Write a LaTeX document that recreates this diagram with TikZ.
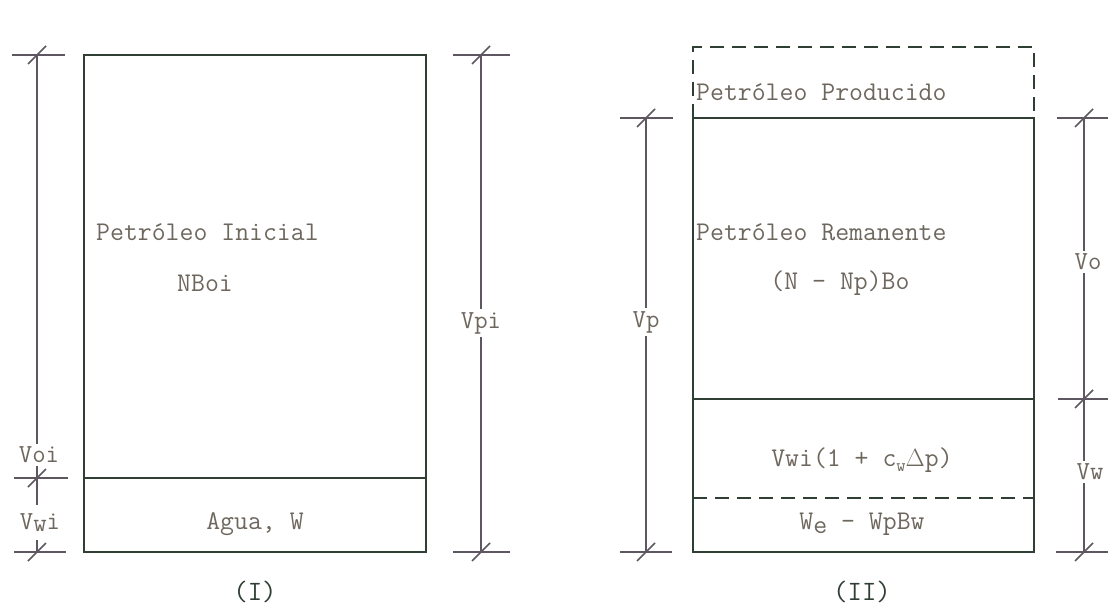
\documentclass[tikz,border=0pt]{standalone}
\usepackage{fontspec}
\definecolor{boxc}{HTML}{2F3F33}
\definecolor{dimc}{HTML}{5E5660}
\definecolor{txtc}{HTML}{6E675E}
\tikzset{
  boxline/.style={draw=boxc, line width=1.8pt},
  boxdash/.style={draw=boxc, line width=1.8pt, dash pattern=on 14pt off 8pt},
  dimline/.style={draw=dimc, line width=1.3pt},
  dimtick/.style={draw=dimc, line width=1.5pt},
  lbl/.style={text=txtc, font=\ttfamily\fontsize{27}{30}\selectfont, inner sep=0pt},
  dimlbl/.style={text=txtc, font=\ttfamily\fontsize{26}{28}\selectfont, fill=white, inner sep=3pt},
  slash/.pic={\draw[dimtick] (-9,9) -- (9,-9);}
}
\begin{document}
\begin{tikzpicture}[x=1pt,y=-1pt]
\useasboundingbox (0,0) rectangle (1108,607);
% ---------- Diagram I ----------
\draw[boxline] (84,55) rectangle (426,552);
\draw[boxline] (84,478) -- (426,478);
\node[lbl, anchor=west] (pi) at (96,232) {Petróleo Inicial};
\node[lbl] (nboi) at (205,283) {NBoi};
\node[lbl] (agua) at (255,524) {Agua, W};
\node[lbl, font=\ttfamily\fontsize{28}{30}\selectfont, text=boxc] (t1) at (255,592) {(I)};
% left dimension
\coordinate (a1) at (37,55); \coordinate (a2) at (37,478); \coordinate (a3) at (37,552);
\draw[dimtick] (12,55) -- (65,55);
\draw[dimtick] (14,478) -- (68,478);
\draw[dimtick] (14,552) -- (66,552);
\draw[dimline] (a1) -- (37,505);
\draw[dimline] (37,540) -- (a3);
\node[dimlbl] (voi) at (39,455) {Voi};
\node[lbl, font=\ttfamily\fontsize{26}{28}\selectfont] (vwi) at (40,523) {V\raisebox{-2pt}{w}i};
\pic at (a1) {slash}; \pic at (a2) {slash}; \pic at (a3) {slash};
% right dimension
\coordinate (b1) at (481,55); \coordinate (b2) at (481,552);
\draw[dimtick] (453,55) -- (510,55);
\draw[dimtick] (453,552) -- (510,552);
\draw[dimline] (b1) -- (b2);
\node[dimlbl] (vpi) at (481,323) {Vpi};
\pic at (b1) {slash}; \pic at (b2) {slash};
% ---------- Diagram II ----------
\draw[boxdash] (693,118) -- (693,47) -- (1034,47) -- (1034,118);
\draw[boxline] (693,118) rectangle (1034,552);
\draw[boxline] (693,399) -- (1034,399);
\draw[boxdash] (693,498) -- (1034,498);
\node[lbl, anchor=west] (pp) at (696,92) {Petróleo Producido};
\node[lbl, anchor=west] (pr) at (696,232) {Petróleo Remanente};
\node[lbl] (nnp) at (840,283) {(N - Np)Bo};
\node[lbl] (vwic) at (862,460) {Vwi(1 + c\raisebox{-5pt}{\fontsize{18}{20}\selectfont w}$\Delta$p)};
\node[lbl] (we) at (862,524) {W\raisebox{-4pt}{e} - WpBw};
\node[lbl, font=\ttfamily\fontsize{28}{30}\selectfont, text=boxc] (t2) at (862,592) {(II)};
% left dimension
\coordinate (c1) at (646,118); \coordinate (c2) at (646,552);
\draw[dimtick] (620,118) -- (673,118);
\draw[dimtick] (620,552) -- (672,552);
\draw[dimline] (c1) -- (c2);
\node[dimlbl] (vp) at (646,322) {Vp};
\pic at (c1) {slash}; \pic at (c2) {slash};
% right dimension
\coordinate (d1) at (1084,118); \coordinate (d2) at (1084,399); \coordinate (d3) at (1084,552);
\draw[dimtick] (1057,118) -- (1108,118);
\draw[dimtick] (1058,399) -- (1108,399);
\draw[dimtick] (1056,552) -- (1108,552);
\draw[dimline] (d1) -- (d3);
\node[dimlbl] (vo) at (1088,262) {Vo};
\node[dimlbl] (vw) at (1090,472) {Vw};
\pic at (d1) {slash}; \pic at (d2) {slash}; \pic at (d3) {slash};
\end{tikzpicture}
\end{document}
